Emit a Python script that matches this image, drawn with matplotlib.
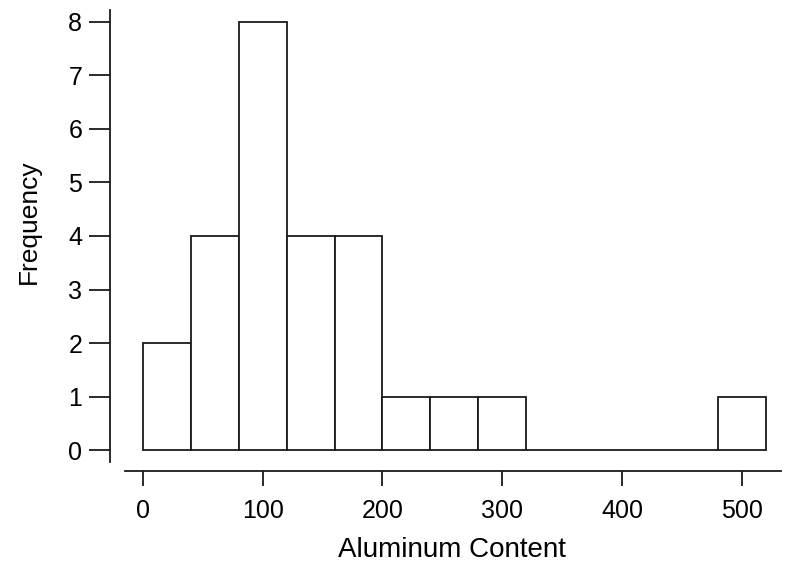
import matplotlib.pyplot as plt

# histogram of aluminum content, bin width 40
bin_left = [0, 40, 80, 120, 160, 200, 240, 280, 320, 360, 400, 440, 480]
counts = [2, 4, 8, 4, 4, 1, 1, 1, 0, 0, 0, 0, 1]
bin_width = 40

x_ticks = [0, 100, 200, 300, 400, 500]
y_ticks = [0, 1, 2, 3, 4, 5, 6, 7, 8]

plt.rcParams['font.family'] = ['Liberation Sans', 'DejaVu Sans']

fig = plt.figure(figsize=(7.85, 5.62), dpi=100)
ax = fig.add_axes([0.1401, 0.162, 0.855, 0.820])

ax.bar(bin_left, counts, width=bin_width, align='edge',
       color='white', edgecolor='#1a1a1a', linewidth=1.3)

ax.set_xlim(-27.5, 533)
ax.set_ylim(-0.39, 8.22)

for s in ['top', 'right']:
    ax.spines[s].set_visible(False)
ax.spines['left'].set_bounds(-0.22, 8.22)
ax.spines['bottom'].set_bounds(-15, 533)
for s in ['left', 'bottom']:
    ax.spines[s].set_linewidth(1.3)
    ax.spines[s].set_color('#1a1a1a')

ax.set_xticks(x_ticks)
ax.set_yticks(y_ticks)
ax.tick_params(axis='y', length=15, width=1.3, pad=5, labelsize=18, color='#1a1a1a')
ax.tick_params(axis='x', length=11, width=1.3, pad=9, labelsize=18, color='#1a1a1a')

ax.set_xlabel('Aluminum Content', fontsize=20, labelpad=10, x=0.51)
ax.set_ylabel('Frequency', fontsize=19, labelpad=20, y=0.54)

fig.savefig('out.png', dpi=100)
